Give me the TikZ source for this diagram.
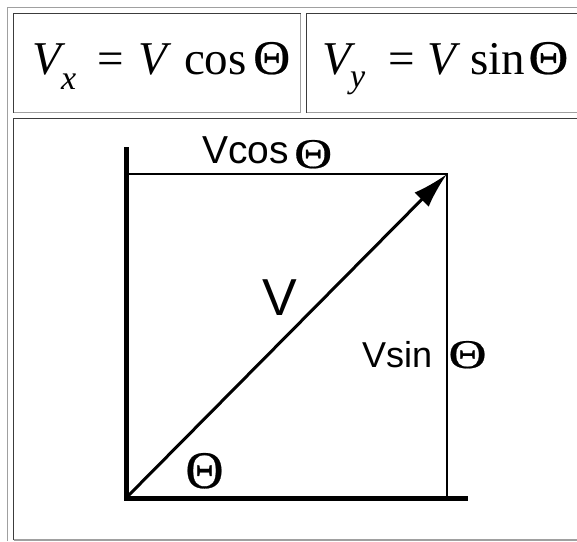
\documentclass[tikz,border=0pt]{standalone}
\usepackage{fontspec}
\setmainfont{Liberation Serif}
\newfontfamily\arialf{Liberation Sans}
\newfontfamily\timesf{Liberation Serif}
\newfontfamily\thetaf[FakeBold=0.5]{Liberation Serif}
\usetikzlibrary{arrows.meta}
\definecolor{tabdark}{HTML}{3C3C3C}
\definecolor{tablight}{HTML}{A0A0A0}
\newcommand{\thetaglyph}[2]{\hspace{-1.5pt}\resizebox{#1}{#2}{\thetaf Θ}\hspace{-1.5pt}}
\tikzset{
  lbl/.style={inner sep=0pt, outer sep=0pt, anchor=base west},
  eqtext/.style={lbl, font=\timesf\fontsize{47}{47}\selectfont},
  sanstext/.style={lbl, font=\arialf},
  thickaxis/.style={line width=5pt, black},
  thinline/.style={line width=1.6pt, black},
  vecline/.style={line width=3pt, black, -{Latex[length=36pt,width=20pt]}},
  outerb/.style={line width=1.5pt, tablight},
  darkb/.style={line width=1.5pt, tabdark},
  lightb/.style={line width=1.5pt, tablight}
}
\begin{document}
\begin{tikzpicture}[x=1pt,y=-1pt]
\useasboundingbox (0,0) rectangle (577,541);
\fill[white] (0,0) rectangle (577,541);
% outer table border
\draw[outerb] (7.5,541) -- (7.5,7.5) -- (577,7.5);
% cell 1
\draw[darkb] (13.5,112.5) -- (13.5,13.5) -- (300.5,13.5);
\draw[lightb] (13.5,112.5) -- (300.5,112.5) -- (300.5,13.5);
% cell 2
\draw[darkb] (306.5,112.5) -- (306.5,13.5) -- (577,13.5);
\draw[lightb] (306.5,112.5) -- (577,112.5);
% cell 3
\draw[darkb] (13.5,540) -- (13.5,118.5) -- (577,118.5);
\draw[lightb] (13.5,539.8) -- (577,539.8);
% equations
\node[eqtext] (eqx) at (32,74) {\textit{V}\hspace{-4pt}\raisebox{-15pt}{\fontsize{34}{34}\selectfont\textit{x}}\hspace{21pt}=\hspace{15pt}\textit{V}\hspace{12pt}cos\hspace{8pt}\thetaglyph{37pt}{32pt}};
\node[eqtext] (eqy) at (322,74) {\textit{V}\hspace{-5pt}\raisebox{-13pt}{\fontsize{34}{34}\selectfont\textit{y}}\hspace{23pt}=\hspace{13pt}\textit{V}\hspace{9pt}sin\hspace{5pt}\thetaglyph{40pt}{32pt}};
% diagram points
\coordinate (O) at (126,498);
\coordinate (T) at (126,147);
\coordinate (R) at (468,498);
\coordinate (C) at (126,174);
\coordinate (P) at (447,174);
\coordinate (Q) at (447,498);
\draw[thinline] (C) -- (P) -- (Q);
\draw[thickaxis] (T) -- (O) -- (R);
\draw[vecline] (O) -- (P);
% labels
\node[sanstext] (vcos) at (202,163) {\fontsize{39}{39}\selectfont Vcos\hspace{7pt}\raisebox{-5pt}{\thetaglyph{38pt}{28pt}}};
\node[sanstext] (vlab) at (262,315) {\fontsize{52}{52}\selectfont V};
\node[sanstext] (vsin) at (362,367) {\fontsize{36}{36}\selectfont Vsin\hspace{18pt}\raisebox{-1pt}{\thetaglyph{38pt}{27pt}}};
\node[lbl] (theta) at (187,488) {\thetaglyph{38pt}{35pt}};
\end{tikzpicture}
\end{document}
